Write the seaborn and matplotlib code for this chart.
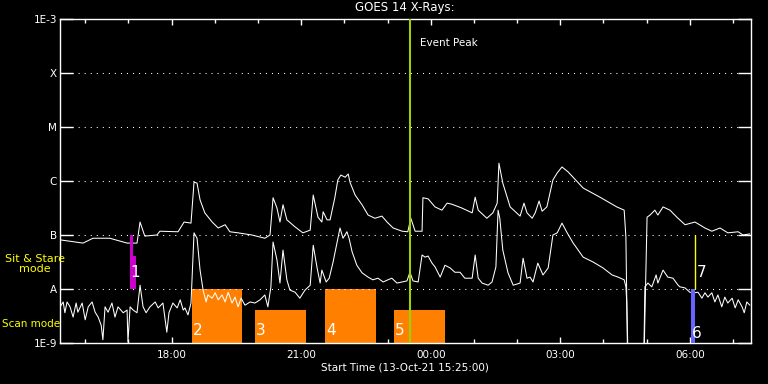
import numpy as np
import pandas as pd
import matplotlib
matplotlib.use('Agg')
import matplotlib.pyplot as plt
import matplotlib.ticker as mticker
import seaborn as sns

# hours after midnight of 13-Oct (24 = 00:00 on 14-Oct), log10 of flux (W/m^2)
long_t = [15.42, 15.95, 16.18, 16.57, 16.97, 17.20, 17.27, 17.38, 17.66, 17.73,
          18.15, 18.29, 18.45, 18.52, 18.59, 18.66, 18.77, 18.94, 19.08, 19.24,
          19.35, 19.54, 19.86, 20.16, 20.28, 20.35, 20.44, 20.51, 20.58, 20.67,
          20.86, 21.04, 21.21, 21.28, 21.39, 21.48, 21.51, 21.60, 21.67, 21.78,
          21.85, 21.92, 22.02, 22.09, 22.13, 22.25, 22.41, 22.55, 22.71, 22.87,
          22.99, 23.13, 23.34, 23.47, 23.54, 23.64, 23.80, 23.82, 23.94, 24.10,
          24.26, 24.38, 24.49, 24.72, 24.96, 25.03, 25.10, 25.30, 25.44, 25.54,
          25.58, 25.67, 25.84, 26.07, 26.16, 26.23, 26.35, 26.42, 26.51, 26.58,
          26.69, 26.83, 26.93, 27.04, 27.18, 27.53, 27.92, 28.31, 28.48, 28.52,
          28.57, 28.92, 29.01, 29.08, 29.19, 29.26, 29.38, 29.54, 29.70, 29.89,
          30.12, 30.35, 30.51, 30.70, 30.88, 31.12, 31.23, 31.39]
long_log = [-7.09, -7.15, -7.06, -7.06, -7.15, -7.15, -6.76, -7.02, -7.00, -6.93,
            -6.94, -6.76, -6.78, -6.02, -6.04, -6.35, -6.59, -6.76, -6.87, -6.81,
            -6.94, -6.96, -7.00, -7.06, -7.00, -6.31, -6.50, -6.76, -6.44, -6.72,
            -6.85, -6.96, -6.91, -6.26, -6.67, -6.76, -6.57, -6.72, -6.72, -6.31,
            -5.98, -5.89, -5.93, -5.87, -6.02, -6.26, -6.44, -6.63, -6.69, -6.65,
            -6.76, -6.87, -6.93, -6.94, -6.69, -6.93, -6.93, -6.31, -6.33, -6.48,
            -6.54, -6.41, -6.43, -6.50, -6.59, -6.30, -6.54, -6.69, -6.59, -6.41,
            -5.67, -6.04, -6.48, -6.65, -6.41, -6.59, -6.69, -6.59, -6.37, -6.56,
            -6.48, -5.98, -5.85, -5.74, -5.83, -6.13, -6.30, -6.48, -6.54, -7.04,
            -10, -10, -6.67, -6.63, -6.54, -6.63, -6.48, -6.54, -6.67, -6.81,
            -6.76, -6.87, -6.93, -6.87, -6.96, -6.94, -7.00, -6.98]

short_t = [15.42, 15.49, 15.53, 15.58, 15.65, 15.72, 15.79, 15.83, 15.93, 16.00,
           16.07, 16.16, 16.23, 16.30, 16.37, 16.41, 16.46, 16.53, 16.62, 16.69,
           16.76, 16.88, 16.97, 16.99, 17.04, 17.11, 17.20, 17.27, 17.34, 17.41,
           17.50, 17.62, 17.69, 17.80, 17.89, 17.94, 18.03, 18.13, 18.20, 18.27,
           18.31, 18.38, 18.45, 18.52, 18.59, 18.66, 18.73, 18.80, 18.84, 18.94,
           19.01, 19.08, 19.17, 19.24, 19.31, 19.40, 19.47, 19.54, 19.61, 19.70,
           19.82, 19.93, 20.05, 20.16, 20.23, 20.30, 20.35, 20.44, 20.51, 20.58,
           20.67, 20.74, 20.86, 20.97, 21.09, 21.21, 21.28, 21.37, 21.44, 21.48,
           21.58, 21.65, 21.74, 21.83, 21.90, 21.97, 22.06, 22.11, 22.18, 22.29,
           22.41, 22.55, 22.66, 22.78, 22.90, 23.01, 23.10, 23.22, 23.34, 23.45,
           23.52, 23.59, 23.71, 23.80, 23.87, 23.94, 24.03, 24.10, 24.22, 24.33,
           24.45, 24.56, 24.68, 24.79, 24.96, 25.03, 25.10, 25.19, 25.33, 25.42,
           25.51, 25.56, 25.60, 25.67, 25.79, 25.91, 26.07, 26.14, 26.23, 26.30,
           26.37, 26.48, 26.60, 26.72, 26.83, 26.93, 27.04, 27.16, 27.30, 27.53,
           27.76, 27.99, 28.20, 28.34, 28.48, 28.52, 28.54, 28.59, 28.92, 28.96,
           29.03, 29.12, 29.22, 29.26, 29.38, 29.49, 29.61, 29.73, 29.77, 29.89,
           30.00, 30.10, 30.19, 30.28, 30.35, 30.42, 30.51, 30.58, 30.65, 30.74,
           30.81, 30.88, 30.98, 31.05, 31.12, 31.21, 31.26, 31.32, 31.39]
short_log = [-8.33, -8.24, -8.44, -8.24, -8.33, -8.52, -8.26, -8.43, -8.26, -8.57,
             -8.33, -8.24, -8.43, -8.52, -8.67, -8.94, -8.33, -8.43, -8.26, -8.52,
             -8.33, -8.44, -8.39, -8.98, -8.33, -8.39, -8.44, -7.93, -8.33, -8.44,
             -8.33, -8.24, -8.35, -8.26, -8.80, -8.44, -8.26, -8.35, -8.20, -8.39,
             -8.35, -8.48, -8.26, -6.96, -7.06, -7.65, -8.02, -8.24, -8.11, -8.17,
             -8.07, -8.20, -8.11, -8.24, -8.06, -8.26, -8.15, -8.33, -8.17, -8.30,
             -8.24, -8.26, -8.20, -8.11, -8.33, -7.96, -7.13, -7.46, -7.89, -7.28,
             -7.83, -8.02, -8.06, -8.17, -8.02, -7.93, -7.19, -7.61, -7.89, -7.65,
             -7.87, -7.80, -7.50, -7.15, -6.87, -7.06, -6.94, -7.06, -7.31, -7.56,
             -7.70, -7.78, -7.83, -7.80, -7.87, -7.83, -7.80, -7.89, -7.87, -7.85,
             -7.69, -7.85, -7.87, -7.37, -7.41, -7.39, -7.52, -7.59, -7.78, -7.56,
             -7.61, -7.69, -7.69, -7.80, -7.80, -7.37, -7.80, -7.89, -7.93, -7.87,
             -7.59, -6.54, -6.69, -7.28, -7.70, -7.93, -7.89, -7.43, -7.80, -7.78,
             -7.87, -7.52, -7.74, -7.61, -7.00, -6.96, -6.78, -6.96, -7.15, -7.41,
             -7.50, -7.61, -7.74, -7.78, -7.83, -7.96, -8.24, -10, -10, -7.96,
             -7.89, -7.96, -7.74, -7.89, -7.65, -7.78, -7.80, -7.93, -7.96, -7.98,
             -8.06, -8.07, -8.06, -8.17, -8.07, -8.15, -8.07, -8.24, -8.11, -8.33,
             -8.15, -8.26, -8.17, -8.35, -8.20, -8.33, -8.44, -8.24, -8.30]

# observation windows
scan_start = [18.47, 19.93, 21.55, 23.15]
scan_end = [19.63, 21.11, 22.73, 24.33]
scan_top = [1e-8, 4.1e-9, 1e-8, 4.1e-9]
scan_labels = ['2', '3', '4', '5']

stare_start = [17.04, 17.11]
stare_end = [17.11, 17.18]
stare_top = [1e-7, 4.1e-8]

blue_start, blue_end = 30.03, 30.12
yellow_t = 30.12
event_peak = 23.52

level_vals = [1e-9, 1e-8, 1e-7, 1e-6, 1e-5, 1e-4, 1e-3]
level_names = ['1E-9', 'A', 'B', 'C', 'M', 'X', '1E-3']
t0, t1 = 15.4167, 31.4167

sns.set_style('dark', {'axes.facecolor': 'black', 'figure.facecolor': 'black'})
plt.rcParams['font.family'] = ['DejaVu Sans']

fig = plt.figure(figsize=(7.68, 3.84), dpi=100)
ax = fig.add_axes([60 / 768, 41 / 384, 691 / 768, 324 / 384])
ax.set_facecolor('black')

df_long = pd.DataFrame({'t': long_t, 'flux': 10 ** np.array(long_log)})
df_short = pd.DataFrame({'t': short_t, 'flux': 10 ** np.array(short_log)})

# scan mode boxes (under the curves)
ax.bar(scan_start, np.array(scan_top) - 1e-9, bottom=1e-9,
       width=np.array(scan_end) - np.array(scan_start), align='edge',
       color='#ff8000', linewidth=0, zorder=1)
for s, top, lab in zip(scan_start, scan_top, scan_labels):
    ax.text(s + 0.03, 1.25e-9, lab, color='white', fontsize=11,
            ha='left', va='bottom', zorder=6)

sns.lineplot(data=df_long, x='t', y='flux', estimator=None, sort=False,
             color='white', lw=0.75, ax=ax, zorder=3)
sns.lineplot(data=df_short, x='t', y='flux', estimator=None, sort=False,
             color='white', lw=0.75, ax=ax, zorder=3)

# sit & stare window
ax.bar(stare_start, np.array(stare_top) - 1e-8, bottom=1e-8,
       width=np.array(stare_end) - np.array(stare_start), align='edge',
       color='#cc00cc', linewidth=0, zorder=4)
ax.text(17.04, 2.05e-8, '1', color='white', fontsize=11, ha='left', va='center', zorder=6)

ax.bar([blue_start], [1e-8 - 1e-9], bottom=1e-9, width=blue_end - blue_start,
       align='edge', color='#6464ff', linewidth=0, zorder=4)
ax.text(30.04, 1.5e-9, '6', color='white', fontsize=11, ha='left', va='center', zorder=6)
ax.vlines(yellow_t, 1e-8, 1e-7, color='#ffff00', lw=1, zorder=4)
ax.text(30.16, 2.05e-8, '7', color='white', fontsize=11, ha='left', va='center', zorder=6)

ax.axvline(event_peak, color='#a0d000', lw=1.5, zorder=5)
ax.text(23.75, 10 ** -3.44, 'Event Peak', color='white', fontsize=7.5,
        ha='left', va='center')

ax.set_yscale('log')
ax.set_ylim(1e-9, 1e-3)
ax.set_xlim(t0, t1)
ax.yaxis.set_major_locator(mticker.FixedLocator(level_vals))
ax.yaxis.set_minor_locator(mticker.NullLocator())
ax.set_yticklabels(level_names)
ax.xaxis.set_major_locator(mticker.FixedLocator([18, 21, 24, 27, 30]))
ax.xaxis.set_minor_locator(mticker.FixedLocator(range(16, 32)))
ax.xaxis.set_major_formatter(mticker.FuncFormatter(lambda h, p: f"{int(h) % 24:02d}:00"))

for lv in level_vals[1:-1]:
    ax.axhline(lv, color='white', lw=0.75, ls=(0, (1, 4.8)), zorder=2)

ax.tick_params(axis='y', which='major', direction='in', length=9.5, width=1,
               left=True, right=True, color='white', labelcolor='white',
               labelsize=7.5, pad=2)
ax.tick_params(axis='x', which='major', direction='in', length=4.5, width=1,
               bottom=True, top=True, color='white', labelcolor='white',
               labelsize=7.5, pad=5)
ax.tick_params(axis='x', which='minor', direction='in', length=3, width=1,
               bottom=True, top=True, color='white')
for sp in ax.spines.values():
    sp.set_color('white')
    sp.set_linewidth(1)
    sp.set_visible(True)
ax.grid(False)
ax.set_xlabel('')
ax.set_ylabel('')

fig.text(405 / 768, 1 - 8 / 384, 'GOES 14 X-Rays:', color='white', fontsize=8.5,
         ha='center', va='center')
fig.text(405 / 768, 1 - 368 / 384, 'Start Time (13-Oct-21 15:25:00)', color='white',
         fontsize=7.5, ha='center', va='center')
fig.text(35 / 768, 1 - 264 / 384, 'Sit & Stare\nmode', color='#ffff00', fontsize=8,
         ha='center', va='center', linespacing=1.1)
fig.text(2 / 768, 1 - 324 / 384, 'Scan mode', color='#ffff00', fontsize=7.5,
         ha='left', va='center')

fig.savefig('out.png', dpi=100, facecolor='black')
